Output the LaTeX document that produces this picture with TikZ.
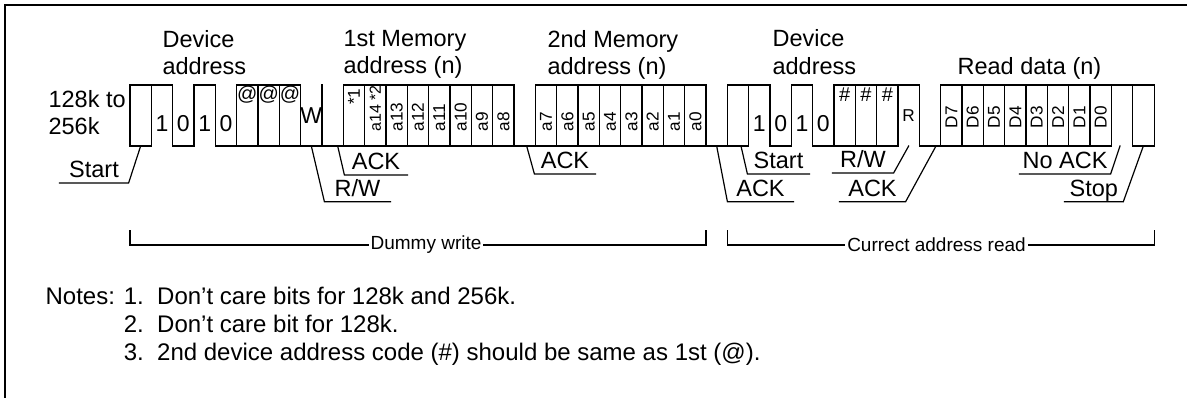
\documentclass[tikz,border=0pt]{standalone}
\usepackage{fontspec}
\setmainfont{Liberation Sans}
\usetikzlibrary{positioning}
\newcommand{\bigfont}{\fontsize{11.75}{13.75}\selectfont}
\newcommand{\bitfont}{\fontsize{11.5}{13}\selectfont}
\newcommand{\tinyfont}{\fontsize{8.6}{10}\selectfont}
\newcommand{\brkfont}{\fontsize{9.5}{11}\selectfont}
\newcommand{\notefont}{\fontsize{12}{14}\selectfont}
\def\cw{21.333}

\begin{document}
\begin{tikzpicture}[x=0.5pt, y=-0.5pt, line width=0.6pt, line cap=rect,
  every node/.style={inner sep=0pt},
  head/.style={font=\bigfont, align=left, anchor=north west},
  bitval/.style={font=\bitfont, anchor=base},
  sym/.style={font=\fontsize{10}{11}\selectfont},
  vlab/.style={font=\tinyfont, rotate=90, anchor=west},
  tag/.style={font=\bigfont, text depth=0pt, inner ysep=2.5pt, anchor=south},
  brk/.style={font=\brkfont, inner xsep=1pt}]
  \useasboundingbox (0,0) rectangle (1187,397);
  % frame
  \draw[line width=1pt] (5,397) -- (5,5) -- (1187,5);

  % headings
  \node[head] (size) at (48,89.5) {128k to\\256k};
  \node[head] (dev1) at (162,29.5) {Device\\address};
  \node[head] (mem1) at (343,29.5) {1st Memory\\address (n)};
  \node[head] (mem2) at (547,29.5) {2nd Memory\\address (n)};
  \node[head] (dev2) at (772,29) {Device\\address};
  \node[font=\bigfont, anchor=base west] (rdat) at (957,74) {Read data (n)};

  % waveform: b = box, h = high, l = low
  \foreach \t [count=\i from 0] in {b,h,l,h,l,b,b,b,l,l,b,b,b,b,b,b,b,b,l,b,b,b,b,b,b,b,b,l,b,h,l,h,l,b,b,b,h,l,b,b,b,b,b,b,b,b,h,b}{
    \pgfmathsetmacro\xa{130+\i*\cw}
    \pgfmathsetmacro\xb{130+(\i+1)*\cw}
    \draw (\xa,85) -- (\xa,146);
    \if\t l\else \draw (\xa,85) -- (\xb,85); \fi
    \if\t h\else \draw (\xa,146) -- (\xb,146); \fi
    \coordinate (b\i) at ({130+(\i+0.5)*\cw},146);
  }
  \draw (1154.67,85) -- (1154.67,146);

  % bit contents
  \foreach \i/\v in {1/1,2/0,3/1,4/0,29/1,30/0,31/1,32/0}
    \node[bitval] (v\i) at ({130+(\i+0.5)*\cw},131.7) {\v};
  \foreach \i in {5,6,7}
    \node[sym] (at\i) at ({130+(\i+0.5)*\cw},95) {@};
  \foreach \i in {33,34,35}
    \node[sym] (hs\i) at ({130+(\i+0.5)*\cw},95) {\#};
  \node[font=\bitfont] (wbit) at ({130+8.5*\cw},116) {W};
  \node[font=\tinyfont] (rbit) at ({130+36.5*\cw},116) {R};
  \node[vlab, anchor=east] (n10) at ({130+10.5*\cw},88) {*1};
  \node[vlab, font=\fontsize{8}{9}\selectfont] (n11) at ({130+11.5*\cw},132) {a14\hspace{2pt}*2};
  \foreach \i/\s in {12/a13,13/a12,14/a11,15/a10,16/a9,17/a8,
                     19/a7,20/a6,21/a5,22/a4,23/a3,24/a2,25/a1,26/a0}
    \node[vlab] (n\i) at ({130+(\i+0.5)*\cw},132) {\s};
  \foreach \i/\s in {38/D7,39/D6,40/D5,41/D4,42/D3,43/D2,44/D1,45/D0}
    \node[vlab] (n\i) at ({130+(\i+0.5)*\cw},129) {\s};

  % callouts
  \node[tag, minimum width=34pt] (start1) at (94,183) {Start};
  \draw (start1.south west) -- (start1.south east) -- (b0);
  \node[tag, minimum width=32.5pt] (rw1) at (357.5,201.7) {R/W};
  \draw (rw1.south east) -- (rw1.south west) -- (b8);
  \node[tag, minimum width=31pt] (ack1) at (376,175) {ACK};
  \draw (ack1.south east) -- (ack1.south west) -- ([xshift=2.5pt]b9);
  \node[tag, minimum width=30pt] (ack2) at (565,174) {ACK};
  \draw (ack2.south east) -- (ack2.south west) -- ([xshift=1pt]b18);
  \node[tag, minimum width=32.5pt] (ack3) at (760.5,201.7) {ACK};
  \draw (ack3.south east) -- (ack3.south west) -- (b27);
  \node[tag, minimum width=30.5pt] (start2) at (778.5,174) {Start};
  \draw (start2.south east) -- (start2.south west) -- ([xshift=1.5pt]b28);
  \node[tag, minimum width=30pt] (rw2) at (863,173) {R/W};
  \draw (rw2.south west) -- (rw2.south east) -- (b36);
  \node[tag, minimum width=32.5pt] (ack4) at (872.5,201.7) {ACK};
  \draw (ack4.south west) -- (ack4.south east) -- ([xshift=3pt]b37);
  \node[tag, minimum width=45pt] (noack) at (1065,174) {No ACK};
  \draw (noack.south west) -- (noack.south east) -- ([xshift=-1pt]b46);
  \node[tag, minimum width=28.85pt] (stop) at (1093.85,201.7) {Stop};
  \draw (stop.south west) -- (stop.south east) -- (b47);

  % brackets
  \coordinate (dwl) at (130,231);
  \coordinate (dwr) at (706,231);
  \node[brk] (dummy) at (426,245) {Dummy write};
  \draw (dummy.west) -| (dwl);
  \draw (dummy.east) -| (dwr);
  \coordinate (carl) at (727.3,231);
  \coordinate (carr) at (1154.7,231);
  \node[brk] (curr) at (936.5,245) {Currect address read};
  \draw (curr.west) -| (carl);
  \draw (curr.east) -| (carr);

  % notes
  \node[font=\notefont, anchor=north west] (notes) at (45,284) {%
    \begin{tabular}{@{}l@{ }l@{}}
      Notes: & 1.\ \ Don't care bits for 128k and 256k.\\
             & 2.\ \ Don't care bit for 128k.\\
             & 3.\ \ 2nd device address code (\#) should be same as 1st (@).
    \end{tabular}};
\end{tikzpicture}
\end{document}
